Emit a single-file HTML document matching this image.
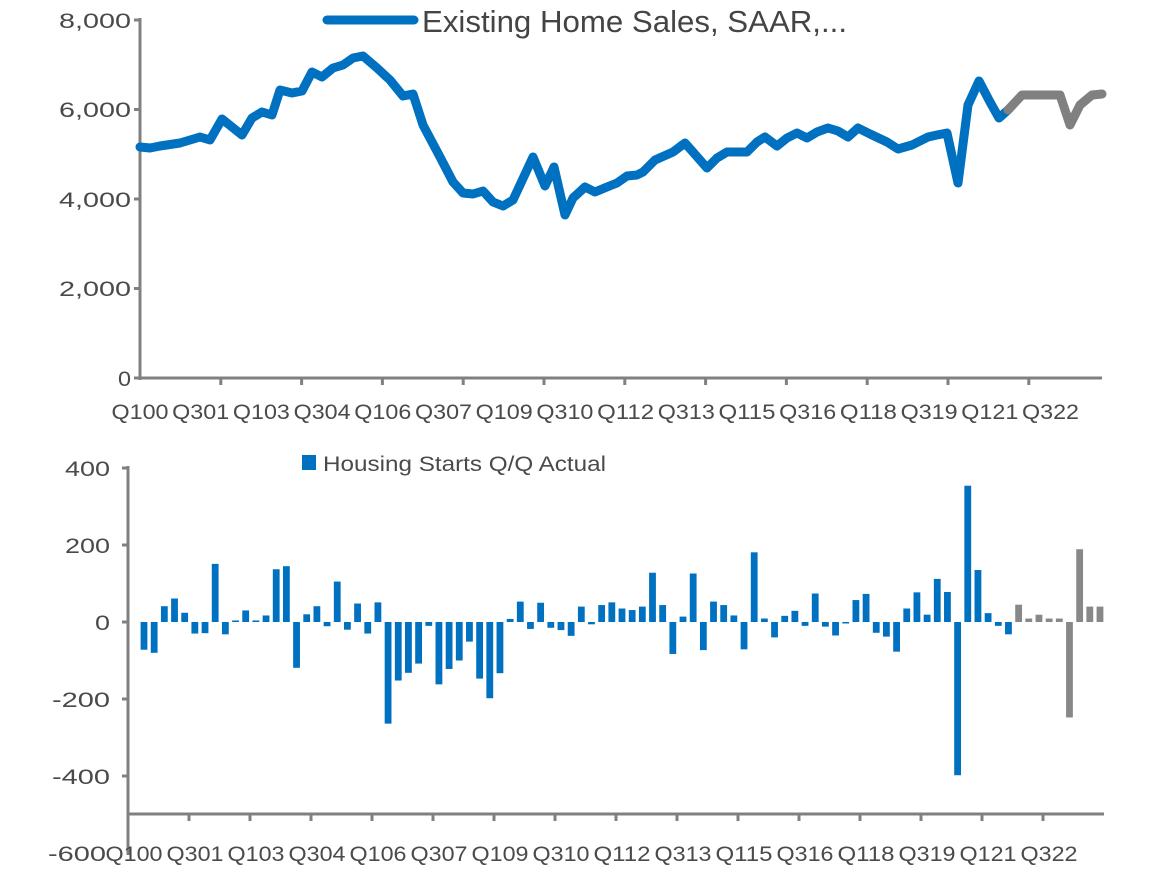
<!DOCTYPE html>
<html><head><meta charset="utf-8"><style>
html,body{margin:0;padding:0;background:#fff;}
svg{display:block;}
text{font-family:"Liberation Sans Narrow","Liberation Sans",sans-serif;fill:#4a4a4a;}
</style></head><body>
<svg id="s" width="1170" height="878" viewBox="0 0 1170 878" xmlns="http://www.w3.org/2000/svg">
<g stroke="#808080" stroke-width="3" fill="none">
<line x1="140" y1="18" x2="140" y2="380"/>
<line x1="139" y1="378" x2="1102" y2="378"/>
<line x1="134" y1="20" x2="140" y2="20"/>
<line x1="134" y1="109.5" x2="140" y2="109.5"/>
<line x1="134" y1="199" x2="140" y2="199"/>
<line x1="134" y1="288.5" x2="140" y2="288.5"/>
<line x1="134" y1="378" x2="140" y2="378"/>
</g>
<g id="toptick" stroke="#808080" stroke-width="3"></g>
<g font-size="21" text-anchor="end" lengthAdjust="spacingAndGlyphs">
<text x="131" y="28" textLength="72" lengthAdjust="spacingAndGlyphs">8,000</text>
<text x="131" y="117" textLength="72" lengthAdjust="spacingAndGlyphs">6,000</text>
<text x="131" y="207" textLength="72" lengthAdjust="spacingAndGlyphs">4,000</text>
<text x="131" y="296" textLength="72" lengthAdjust="spacingAndGlyphs">2,000</text>
<text x="131" y="386" textLength="13" lengthAdjust="spacingAndGlyphs">0</text>
</g>
<g id="toplab" font-size="21" text-anchor="middle"></g>
<polyline fill="none" stroke="#0070C0" stroke-width="9" stroke-linejoin="round" stroke-linecap="round" points="140,147 150,148 160,146 180,143 200,137 210,140 222,119 242,135 252,118 262,112 272,115 280,90 292,93 302,91 312,72 322,77 333,68 343,65 353,58 363,56 377,68 390,80 403,96 413,94 423,125 440,157 453,182 463,193 473,194 483,191 493,202 503,206 513,200 533,157 545,186 554,167 565,215 573,198 585,187 595,192 607,187 617,183 627,176 637,175 643,172 655,160 673,152 685,143 707,168 717,158 727,152 747,152 757,142 765,137 777,146 787,138 797,133 807,138 817,132 828,128 838,131 848,137 858,128 870,134 887,142 898,149 912,145 928,137 937,135 947,133 958,183 968,105 979,81 990,102 999,118 1008,110"/>
<polyline fill="none" stroke="#808080" stroke-width="9" stroke-linejoin="round" stroke-linecap="round" points="1008,110 1022,95 1060,95 1070,125 1080,105 1092,95 1102,94"/>
<line x1="327" y1="20" x2="414" y2="20" stroke="#0070C0" stroke-width="9" stroke-linecap="round"/>
<text x="422" y="32" font-size="31" textLength="425" lengthAdjust="spacingAndGlyphs" style="fill:#444">Existing Home Sales, SAAR,...</text>

<g id="bars"></g>
<g stroke="#808080" stroke-width="3" fill="none">
<line x1="128" y1="466" x2="128" y2="855"/>
<line x1="127" y1="814" x2="1104" y2="814"/>
<line x1="122" y1="468" x2="128" y2="468"/>
<line x1="122" y1="545" x2="128" y2="545"/>
<line x1="122" y1="622" x2="128" y2="622"/>
<line x1="122" y1="699" x2="128" y2="699"/>
<line x1="122" y1="776" x2="128" y2="776"/>
</g>
<g id="bottick" stroke="#808080" stroke-width="3"></g>
<g font-size="21" text-anchor="end">
<text x="110" y="476" textLength="45" lengthAdjust="spacingAndGlyphs">400</text>
<text x="110" y="553" textLength="45" lengthAdjust="spacingAndGlyphs">200</text>
<text x="110" y="630" textLength="15" lengthAdjust="spacingAndGlyphs">0</text>
<text x="110" y="707" textLength="58" lengthAdjust="spacingAndGlyphs">-200</text>
<text x="110" y="784" textLength="58" lengthAdjust="spacingAndGlyphs">-400</text>
<text x="106" y="861" textLength="58" lengthAdjust="spacingAndGlyphs">-600</text>
</g>
<g id="botlab" font-size="21" text-anchor="middle"></g>
<rect x="302" y="455" width="14" height="15" fill="#0070C0"/>
<text x="323" y="471" font-size="21" textLength="283" lengthAdjust="spacingAndGlyphs">Housing Starts Q/Q Actual</text>
</svg>
<script>
var NS="http://www.w3.org/2000/svg";
function el(p,t,a,txt){var e=document.createElementNS(NS,t);for(var k in a)e.setAttribute(k,a[k]);if(txt)e.textContent=txt;document.getElementById(p).appendChild(e);}
var labs=["Q100","Q301","Q103","Q304","Q106","Q307","Q109","Q310","Q112","Q313","Q115","Q316","Q118","Q319","Q121","Q322"];
for(var i=0;i<labs.length;i++){
 el("toplab","text",{x:140+i*60.7,y:419,textLength:57,lengthAdjust:"spacingAndGlyphs"},labs[i]);
 el("botlab","text",{x:134+i*61,y:861,textLength:57,lengthAdjust:"spacingAndGlyphs"},labs[i]);
}
for(var k=1;k<=11;k++){var x=140+k*80.8;el("toptick","line",{x1:x,y1:378,x2:x,y2:385});}
for(var k=0;k<=14;k++){var x=189+k*61;el("bottick","line",{x1:x,y1:814,x2:x,y2:821});}
var v=[-72,-80,41,61,24,-30,-29,151,-32,4,30,4,17,137,145,-119,20,41,-11,105,-20,48,-30,51,-264,-152,-132,-108,-10,-162,-122,-100,-51,-147,-198,-133,8,53,-18,50,-15,-21,-36,40,-6,44,51,35,31,40,128,44,-83,14,126,-73,53,44,17,-71,181,9,-40,16,29,-10,74,-12,-35,-3,57,73,-28,-38,-77,35,77,19,112,78,-398,354,135,23,-10,-32,45,9,19,9,9,-248,189,40,40];
for(var i=0;i<v.length;i++){
 var cx=144+i*10.17,h=Math.abs(v[i])*0.385,y=v[i]>=0?622-h:622;
 el("bars","rect",{x:cx-3.4,y:y,width:6.8,height:Math.max(h,1.5),fill:i>=86?"#888":"#0070C0"});
}
</script>
</body></html>
